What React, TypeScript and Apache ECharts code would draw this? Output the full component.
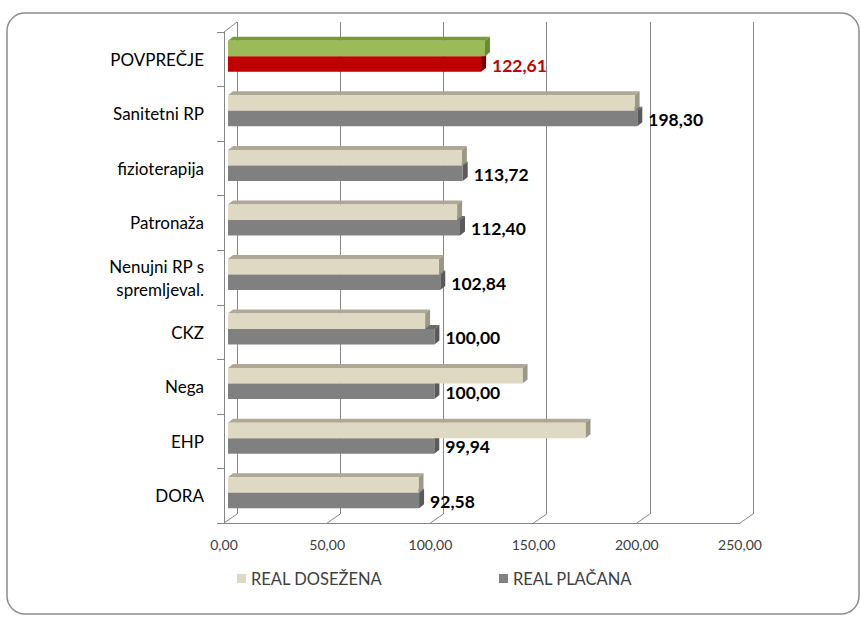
import React, { useEffect, useRef } from "react";
import * as echarts from "echarts";

const categories = [
  "POVPREČJE",
  "Sanitetni RP",
  "fizioterapija",
  "Patronaža",
  "Nenujni RP s\nspremljeval.",
  "CKZ",
  "Nega",
  "EHP",
  "DORA",
];
const realDosezena = [124.5, 197.0, 113.3, 111.0, 102.2, 95.5, 142.7, 173.2, 92.3];
const realPlacana = [122.61, 198.3, 113.72, 112.4, 102.84, 100.0, 100.0, 99.94, 92.58];
const xTicks = [0, 50, 100, 150, 200, 250];
const seriesNames = ["REAL DOSEŽENA", "REAL PLAČANA"];

const FONT = "Lato, 'Open Sans', sans-serif";
const fmt = (v: number) => v.toFixed(2).replace(".", ",");

const palette = {
  beige: { front: "#DDD9C3", top: "#ADA996", side: "#9C9886" },
  gray: { front: "#808080", top: "#6A6A6A", side: "#5A5A5A" },
  green: { front: "#9BBB59", top: "#789A38", side: "#6C8A32" },
  red: { front: "#C00000", top: "#960000", side: "#7A0000" },
};

const DX = 5;
const DY = 4;
const BAR_H = 15.5;

function barRenderer(which: 0 | 1) {
  return (params: any, api: any) => {
    const val = api.value(0);
    const idx = api.value(1);
    const start = api.coord([0, idx]);
    const end = api.coord([val, idx]);
    const cy = start[1];
    const y0 = which === 0 ? cy - BAR_H : cy;
    const y1 = y0 + BAR_H;
    const x0 = start[0];
    const x1 = end[0];
    const c =
      idx === 0
        ? which === 0
          ? palette.green
          : palette.red
        : which === 0
        ? palette.beige
        : palette.gray;
    const children: any[] = [
      {
        type: "polygon",
        shape: { points: [[x0, y0], [x0 + DX, y0 - DY], [x1 + DX, y0 - DY], [x1, y0]] },
        style: { fill: c.top },
      },
      {
        type: "polygon",
        shape: { points: [[x1, y0], [x1 + DX, y0 - DY], [x1 + DX, y1 - DY], [x1, y1]] },
        style: { fill: c.side },
      },
      {
        type: "rect",
        shape: { x: x0, y: y0, width: x1 - x0, height: BAR_H },
        style: { fill: c.front },
      },
    ];
    if (which === 1) {
      children.push({
        type: "text",
        x: x1 + 11,
        y: (y0 + y1) / 2 + 1,
        style: {
          text: fmt(val),
          fill: idx === 0 ? "#C00000" : "#000000",
          font: `bold 17.5px ${FONT}`,
          align: "left",
          verticalAlign: "middle",
          textAlign: "left",
          textVerticalAlign: "middle",
        },
      });
    }
    return { type: "group", children };
  };
}

export default function App() {
  const ref = useRef<HTMLDivElement>(null);

  useEffect(() => {
    document.body.style.margin = "0";
    if (!ref.current) return;
    const chart = echarts.init(ref.current, undefined, { renderer: "svg" });
    const axisColor = "#868686";
    const legendText = { fontSize: 16.5, color: "#404040", fontFamily: FONT };
    const option: any = {
      animation: false,
      backgroundColor: "#ffffff",
      textStyle: { fontFamily: FONT },
      graphic: [
        {
          type: "rect",
          shape: { x: 7, y: 13, width: 852, height: 601, r: 18 },
          style: { fill: "none", stroke: "#8C8C8C", lineWidth: 1.5 },
          silent: true,
          z: -10,
        },
      ],
      grid: [
        { left: 224, top: 32, width: 516, height: 491 },
        { left: 237, top: 22, width: 516, height: 492 },
        { left: 228, top: 29, width: 516, height: 491 },
      ],
      xAxis: [
        {
          gridIndex: 0,
          type: "value",
          min: 0,
          max: 250,
          interval: 50,
          axisLine: { show: true, lineStyle: { color: axisColor, width: 1 } },
          axisTick: { show: false },
          splitLine: { show: false },
          axisLabel: {
            formatter: (v: number) => fmt(v),
            color: "#404040",
            fontSize: 14,
            fontFamily: FONT,
            margin: 14,
          },
        },
        {
          gridIndex: 1,
          type: "value",
          min: 0,
          max: 250,
          interval: 50,
          axisLine: { show: false },
          axisTick: { show: false },
          axisLabel: { show: false },
          splitLine: { show: true, lineStyle: { color: axisColor, width: 1 } },
        },
        {
          gridIndex: 2,
          type: "value",
          min: 0,
          max: 250,
          show: false,
          splitLine: { show: false },
        },
      ],
      yAxis: [
        {
          gridIndex: 0,
          type: "category",
          inverse: true,
          data: categories,
          axisLine: { show: true, lineStyle: { color: axisColor, width: 1 } },
          axisTick: { show: true, length: 7, lineStyle: { color: axisColor } },
          axisLabel: {
            color: "#000000",
            fontSize: 17,
            fontFamily: FONT,
            margin: 20,
            lineHeight: 23,
            align: "right",
          },
        },
        {
          gridIndex: 1,
          type: "category",
          inverse: true,
          data: categories,
          show: false,
        },
        {
          gridIndex: 2,
          type: "category",
          inverse: true,
          data: categories,
          show: false,
        },
      ],
      legend: [
        {
          data: [seriesNames[0]],
          left: 232,
          top: 565,
          itemWidth: 9,
          itemHeight: 9,
          itemGap: 6,
          icon: "rect",
          selectedMode: false,
          textStyle: legendText,
        },
        {
          data: [seriesNames[1]],
          left: 494,
          top: 565,
          itemWidth: 9,
          itemHeight: 9,
          icon: "rect",
          selectedMode: false,
          textStyle: legendText,
        },
      ],
      series: [
        {
          name: "diagonals",
          type: "custom",
          xAxisIndex: 0,
          yAxisIndex: 0,
          silent: true,
          data: xTicks.map((v) => [v]),
          encode: { x: 0 },
          renderItem: (params: any, api: any) => {
            const cs = params.coordSys;
            const x = api.coord([api.value(0), 0])[0];
            const bottom = cs.y + cs.height;
            const children: any[] = [
              {
                type: "line",
                shape: { x1: x, y1: bottom, x2: x + 13, y2: bottom - 9 },
                style: { stroke: axisColor, lineWidth: 1 },
              },
            ];
            if (params.dataIndex === 0) {
              children.push({
                type: "line",
                shape: { x1: cs.x, y1: cs.y, x2: cs.x + 13, y2: cs.y - 10 },
                style: { stroke: axisColor, lineWidth: 1 },
              });
            }
            return { type: "group", children };
          },
          z: 1,
        },
        {
          name: seriesNames[1],
          type: "custom",
          xAxisIndex: 2,
          yAxisIndex: 2,
          itemStyle: { color: "#808080" },
          data: realPlacana.map((v, i) => [v, i]),
          encode: { x: 0, y: 1 },
          renderItem: barRenderer(1),
          z: 3,
        },
        {
          name: seriesNames[0],
          type: "custom",
          xAxisIndex: 2,
          yAxisIndex: 2,
          itemStyle: { color: "#DDD9C3" },
          data: realDosezena.map((v, i) => [v, i]),
          encode: { x: 0, y: 1 },
          renderItem: barRenderer(0),
          z: 4,
        },
      ],
    };
    chart.setOption(option);
    return () => chart.dispose();
  }, []);

  return <div ref={ref} style={{ width: 861, height: 619 }} />;
}
